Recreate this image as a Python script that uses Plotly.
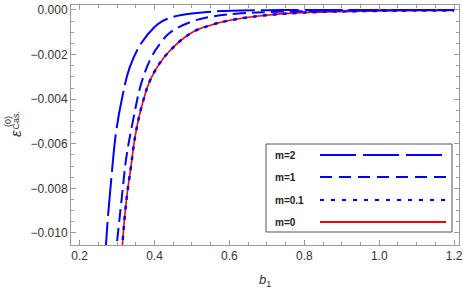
import plotly.graph_objects as go

# ---- data ----
b_m2 = [0.266, 0.27, 0.275, 0.285, 0.297, 0.314, 0.334, 0.365, 0.40, 0.419, 0.44, 0.472, 0.552, 0.605, 0.70, 0.80, 1.0, 1.2]
e_m2 = [-0.0112, -0.01058, -0.00942, -0.00749, -0.00552, -0.0039, -0.00256, -0.00148, -0.00076, -0.00052, -0.00036, -0.00022, -0.00008, -0.00003, -0.00001, 0.0, 0.0, 0.0]

b_m1 = [0.296, 0.299, 0.312, 0.325, 0.343, 0.365, 0.392, 0.419, 0.44, 0.499, 0.552, 0.632, 0.712, 0.80, 1.0, 1.2]
e_m1 = [-0.0112, -0.01058, -0.00852, -0.00659, -0.00493, -0.00327, -0.00211, -0.00142, -0.00103, -0.00052, -0.0003, -0.00015, -0.00009, -0.00005, -0.00001, 0.0]

b_m01 = [0.312, 0.314, 0.325, 0.337, 0.349, 0.368, 0.392, 0.436, 0.499, 0.552, 0.605, 0.685, 0.792, 1.0, 1.2]
e_m01 = [-0.0112, -0.01058, -0.00852, -0.00704, -0.0056, -0.00418, -0.00302, -0.00192, -0.00102, -0.00067, -0.00045, -0.00026, -0.00012, -0.00004, -0.00002]

b_m0 = [0.312, 0.314, 0.325, 0.337, 0.349, 0.368, 0.392, 0.436, 0.499, 0.552, 0.605, 0.685, 0.792, 1.0, 1.2]
e_m0 = [-0.0112, -0.01058, -0.00852, -0.00704, -0.0056, -0.00418, -0.00302, -0.00192, -0.00102, -0.00067, -0.00045, -0.00026, -0.00012, -0.00004, -0.00002]

labels = ["m=2", "m=1", "m=0.1", "m=0"]
colors = ["#0000ff", "#0000ff", "#0000ff", "#ff0000"]
dashes_curve = ["38px,6px", "13px,6px", "4px,6px", "solid"]
widths = [2, 2, 2.5, 1.6]

x_ticks = [0.2, 0.4, 0.6, 0.8, 1.0, 1.2]
y_ticks = [0.0, -0.002, -0.004, -0.006, -0.008, -0.010]
y_ticklabels = ["0.000", "\u22120.002", "\u22120.004", "\u22120.006", "\u22120.008", "\u22120.010"]

series = [(b_m2, e_m2), (b_m1, e_m1), (b_m01, e_m01), (b_m0, e_m0)]
order = [3, 2, 1, 0]  # draw red first, dots over it

fig = go.Figure()
for i in order:
    bx, ey = series[i]
    fig.add_trace(go.Scatter(
        x=bx, y=ey, mode="lines", name=labels[i],
        line=dict(color=colors[i], width=widths[i], dash=dashes_curve[i], shape="spline", smoothing=1.1),
        showlegend=False, hoverinfo="skip"))

frame = "#9a9a9a"
tfont = dict(family="Liberation Sans, Arial", size=12, color="#333333")
fig.update_xaxes(range=[0.177, 1.213], tickvals=x_ticks, ticktext=[f"{v:.1f}" for v in x_ticks],
                 showgrid=False, zeroline=False, showline=True, linecolor=frame, linewidth=1,
                 mirror="ticks", ticks="inside", ticklen=5, tickcolor=frame, tickwidth=1, automargin=False,
                 minor=dict(dtick=0.05, tick0=0.2, ticks="inside", ticklen=3, tickcolor=frame, showgrid=False),
                 tickfont=tfont)
fig.update_yaxes(range=[-0.01054, 0.000224], tickvals=y_ticks, ticktext=y_ticklabels,
                 showgrid=False, zeroline=False, showline=True, linecolor=frame, linewidth=1,
                 mirror="ticks", ticks="inside", ticklen=5, tickcolor=frame, tickwidth=1, automargin=False,
                 minor=dict(dtick=0.0005, tick0=0, ticks="inside", ticklen=3, tickcolor=frame, showgrid=False),
                 tickfont=tfont)

# custom legend
shapes = [dict(type="rect", xref="paper", yref="paper", x0=(266-71)/388, x1=(452-71)/388,
               y0=(245-232)/240, y1=(245-144)/240, line=dict(color="#555555", width=1), fillcolor="white")]
legend_dash = ["36px,7px", "12px,7px", "4px,7px", "solid"]
legend_y = [155, 177, 200, 222]
annotations = []
for i in range(4):
    yp = (245 - legend_y[i]) / 240
    shapes.append(dict(type="line", xref="paper", yref="paper", x0=(320-71)/388, x1=(446-71)/388,
                       y0=yp, y1=yp, line=dict(color=colors[i], width=2.2, dash=legend_dash[i])))
    annotations.append(dict(xref="paper", yref="paper", x=(273-71)/388, y=yp, xanchor="left", yanchor="middle",
                            text="<b>" + labels[i] + "</b>", showarrow=False,
                            font=dict(family="Liberation Sans, Arial", size=10, color="#222222")))

# axis titles
annotations.append(dict(xref="paper", yref="paper", x=0.5, y=-(280-245)/240, xanchor="center", yanchor="middle",
                        text="<i>b</i><sub>1</sub>", showarrow=False,
                        font=dict(family="Liberation Sans, Arial", size=13, color="#333333")))
annotations.append(dict(xref="paper", yref="paper", x=-(71-15)/388, y=(245-134)/240, xanchor="center", yanchor="middle",
                        text="<i>\u03b5</i>", textangle=-90, showarrow=False,
                        font=dict(family="Liberation Sans, Arial", size=15, color="#333333")))
annotations.append(dict(xref="paper", yref="paper", x=-(71-8)/388, y=(245-122)/240, xanchor="center", yanchor="middle",
                        text="(0)", textangle=-90, showarrow=False,
                        font=dict(family="Liberation Sans, Arial", size=9, color="#333333")))
annotations.append(dict(xref="paper", yref="paper", x=-(71-15.5)/388, y=(245-120)/240, xanchor="center", yanchor="middle",
                        text="Cas.", textangle=-90, showarrow=False,
                        font=dict(family="Liberation Sans, Arial", size=9, color="#333333")))

fig.update_layout(width=463, height=292, margin=dict(l=71, r=4, t=5, b=47, autoexpand=False),
                  paper_bgcolor="white", plot_bgcolor="white",
                  shapes=shapes, annotations=annotations, showlegend=False)

fig.write_html("out.html", config={"displayModeBar": False, "staticPlot": True},
               post_script="document.body.style.margin='0';document.body.style.overflow='hidden';")
